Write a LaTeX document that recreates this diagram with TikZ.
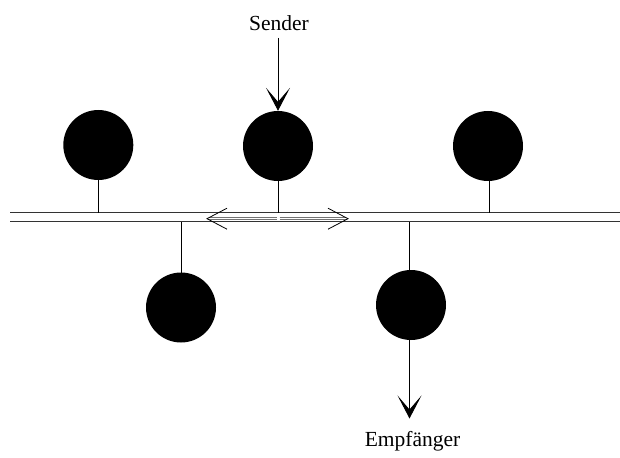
\documentclass[tikz,border=0pt]{standalone}
\usepackage{fontspec}
\setmainfont{Liberation Serif}
\usetikzlibrary{arrows.meta}
\tikzset{
  station/.style={circle,fill=black,draw=none,minimum size=70pt,inner sep=0pt},
  stem/.style={line width=1pt},
  busline/.style={line width=1.3pt,draw=black!80},
  shaft/.style={line width=0.7pt,draw=black!55},
  openhead/.style={line width=0.8pt},
  bigarrow/.style={line width=0.9pt,-{Stealth[length=23pt,width=24pt,inset=14pt]}},
  label/.style={font=\fontsize{21.5}{26}\selectfont,inner sep=0pt,anchor=base}
}
\begin{document}
\begin{tikzpicture}[x=1pt,y=-1pt]
\useasboundingbox (0,0) rectangle (620,457);
% bus
\coordinate (bl1) at (10,212.5);
\coordinate (br1) at (620,212.5);
\coordinate (bl2) at (10,221.8);
\coordinate (br2) at (620,221.8);
\draw[busline] (bl1) -- (br1);
\draw[busline] (bl2) -- (br2);
% stations
\node[station] (s1) at (98.3,145) {};
\node[station] (s2) at (278,146) {};
\node[station] (s3) at (488,146) {};
\node[station] (s4) at (181,307.5) {};
\node[station] (s5) at (411,305) {};
% stems
\coordinate (t1) at (98,212.5);
\coordinate (t2) at (278,212.5);
\coordinate (t3) at (489,212.5);
\coordinate (t4) at (181,221.8);
\coordinate (t5) at (409.5,221.8);
\draw[stem] (t1 |- s1.center) -- (t1);
\draw[stem] (t2 |- s2.center) -- (t2);
\draw[stem] (t3 |- s3.center) -- (t3);
\draw[stem] (t4 |- s4.center) -- (t4);
\draw[stem] (t5 |- s5.center) -- (t5);
% double arrow on the bus
\coordinate (dl) at (207,218.7);
\coordinate (dr) at (348,218.7);
\coordinate (dcl) at (276.5,218.7);
\coordinate (dcr) at (279.5,218.7);
\draw[shaft] ([yshift=-1pt]dl) ++(2,0) -- ([yshift=-1pt]dcl);
\draw[shaft] ([yshift=1pt]dl) ++(2,0) -- ([yshift=1pt]dcl);
\draw[shaft] ([yshift=-1pt]dcr) -- ([yshift=-1pt,xshift=-2pt]dr);
\draw[shaft] ([yshift=1pt]dcr) -- ([yshift=1pt,xshift=-2pt]dr);
\draw[openhead] ([xshift=20pt,yshift=-10.5pt]dl) -- (dl) -- ([xshift=20pt,yshift=10.5pt]dl);
\draw[openhead] ([xshift=-20pt,yshift=-10.5pt]dr) -- (dr) -- ([xshift=-20pt,yshift=10.5pt]dr);
% sender / receiver
\node[label] (snd) at (279,30.7) {Sender};
\node[label] (rcv) at (412.5,446.7) {Empfänger};
\coordinate (sa) at (278,38);
\coordinate (ra) at (409.5,418.5);
\draw[bigarrow] (sa) -- (s2.north);
\draw[bigarrow] (ra |- s5.center) -- (ra);
\end{tikzpicture}
\end{document}
